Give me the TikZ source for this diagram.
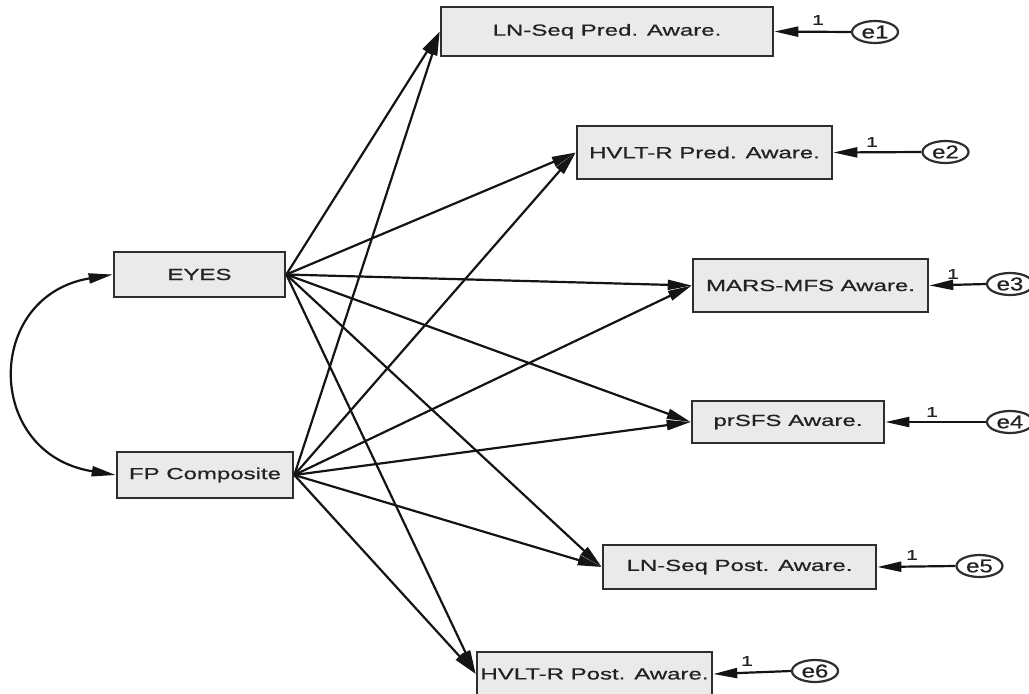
\documentclass[tikz,border=0pt]{standalone}
\usepackage{fontspec}
\newfontfamily\amos[FakeStretch=1.5,FakeBold=0.7]{Liberation Sans}
\newfontfamily\amoserr[FakeStretch=1.3,FakeBold=0.7]{Liberation Sans}
\usetikzlibrary{arrows.meta,shapes.geometric}
\definecolor{boxfill}{HTML}{EAEAEA}
\definecolor{edge}{HTML}{2E2E2E}
\definecolor{txt}{HTML}{222222}
\begin{document}
\begin{tikzpicture}[x=1pt,y=-1pt,
  obs/.style={draw=edge,line width=2.6pt,fill=boxfill,rectangle,inner sep=0pt,
    font=\amos\fontsize{16}{18}\selectfont,text=txt},
  err/.style={draw=edge,line width=2.2pt,fill=white,ellipse,inner sep=0pt,
    minimum width=46pt,minimum height=22pt,font=\amoserr\fontsize{18.5}{20}\selectfont,text=txt},
  tip/.tip={Triangle[length=24pt,width=10pt]},
  path/.style={draw=black!92,line width=2.2pt,-tip},
  one/.style={font=\amos\fontsize{14}{16}\selectfont,text=txt,inner sep=0pt}]
\useasboundingbox (0,0) rectangle (1029,694);
\begin{scope}
\clip (0,0) rectangle (1029,694);
% observed boxes
\node[obs,minimum width=332pt,minimum height=49pt] (b1) at (607,31.5) {LN-Seq Pred. Aware.};
\node[obs,minimum width=255pt,minimum height=53pt] (b2) at (704.5,152.5) {HVLT-R Pred. Aware.};
\node[obs,minimum width=235pt,minimum height=53pt] (b3) at (810.5,285.5) {MARS-MFS Aware.};
\node[obs,minimum width=192pt,minimum height=42pt] (b4) at (788,422) {prSFS Aware.};
\node[obs,minimum width=273pt,minimum height=44pt] (b5) at (739.5,567) {LN-Seq Post. Aware.};
\node[obs,minimum width=235pt,minimum height=44pt] (b6) at (594.5,674) {HVLT-R Post. Aware.};
\node[obs,minimum width=171pt,minimum height=45pt] (eyes) at (199.5,274.5) {EYES};
\node[obs,minimum width=176pt,minimum height=46pt] (fp) at (205,475) {FP Composite};
% error terms
\node[err] (e1) at (875,32) {e1};
\node[err] (e2) at (945.5,152) {e2};
\node[err] (e3) at (1010,284) {e3};
\node[err] (e4) at (1010,422) {e4};
\node[err] (e5) at (979.5,566) {e5};
\node[err] (e6) at (815,671) {e6};
% structural paths
\foreach \t in {b1,b2,b3,b4,b5,b6}{
  \draw[path] (eyes.east) -- (\t.west);
  \draw[path] (fp.east) -- (\t.west);
}
% error paths
\foreach \e/\b in {e1/b1,e2/b2,e3/b3,e4/b4,e5/b5,e6/b6}{
  \draw[path] (\e.west) -- (\b.east);
}
\node[one] (l1) at (818,20) {1};
\node[one] (l2) at (872,142) {1};
\node[one] (l3) at (953,274) {1};
\node[one] (l4) at (932,412) {1};
\node[one] (l5) at (912,555) {1};
\node[one] (l6) at (747,661) {1};
% covariance
\draw[draw=black!92,line width=2.2pt,tip-tip]
  (eyes.west) .. controls (-16,296) and (-16,454) .. (fp.west);
\end{scope}
\end{tikzpicture}
\end{document}
